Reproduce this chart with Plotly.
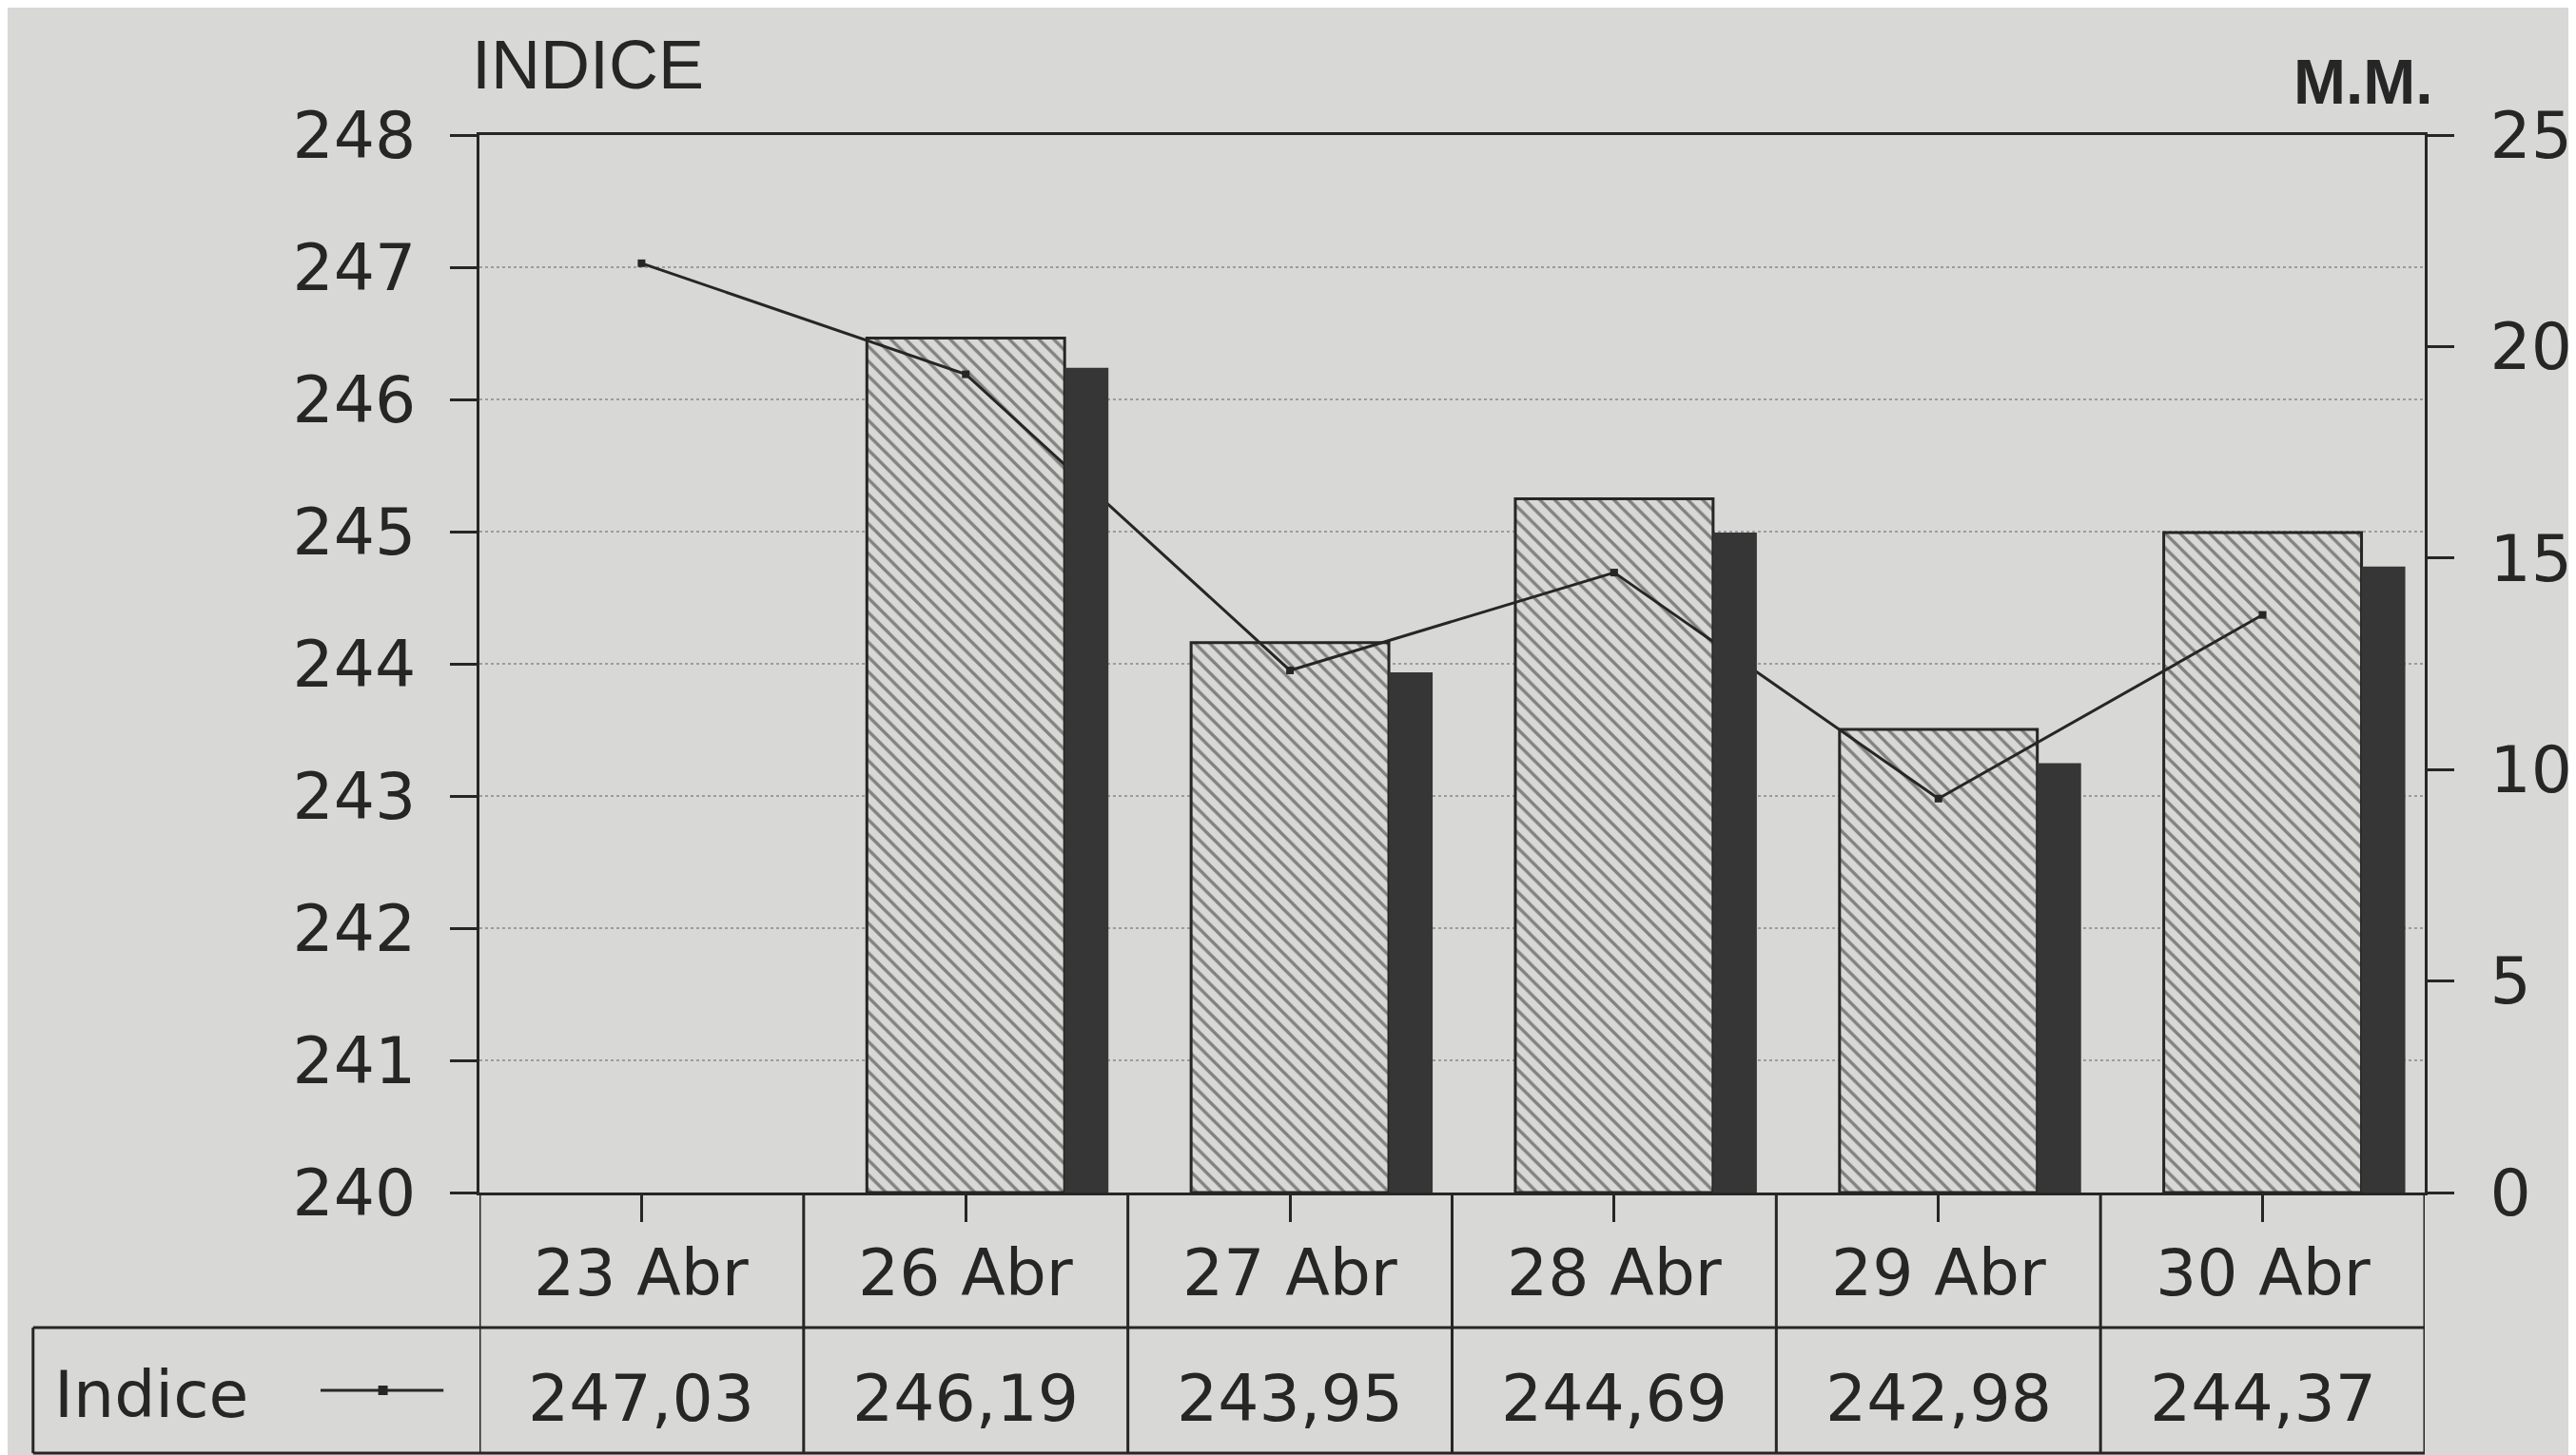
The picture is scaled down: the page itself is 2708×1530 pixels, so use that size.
import plotly.graph_objects as go

# ---------------- data ----------------
categories = ["23 Abr", "26 Abr", "27 Abr", "28 Abr", "29 Abr", "30 Abr"]
indice = [247.03, 246.19, 243.95, 244.69, 242.98, 244.37]
mm_hatched = [None, 20.2, 13.0, 16.4, 10.95, 15.6]
mm_dark = [None, 19.5, 12.3, 15.6, 10.15, 14.8]
left_ticks = [240, 241, 242, 243, 244, 245, 246, 247, 248]
right_ticks = [0, 5, 10, 15, 20, 25]

# ---------------- style ----------------
W, H = 2708, 1530
ML, MR, MT, MB = 496, 155, 134, 284
PW = W - ML - MR
PH = H - MT - MB
BG = "#d8d8d6"
INK = "#262626"
FONT = "DejaVu Sans"
FS = 68
LW = 3


def px(x):
    return (x - ML) / PW


def py(y):
    return (H - MB - y) / PH


xs = list(range(len(categories)))

fig = go.Figure()

# hatched bars (main subplot, drawn first)
fig.add_trace(go.Bar(
    x=xs, y=mm_hatched, offset=-0.305, width=0.61,
    marker=dict(color=BG, line=dict(color=INK, width=LW),
                pattern=dict(shape="\\", fgcolor="#2a2a2a", bgcolor=BG,
                             size=11, solidity=0.3)),
    yaxis="y", showlegend=False, hoverinfo="skip"))

# index line (left axis)
fig.add_trace(go.Scatter(
    x=xs, y=indice, mode="lines+markers",
    line=dict(color=INK, width=3),
    marker=dict(symbol="square", size=8, color=INK),
    yaxis="y2", showlegend=False))

# dark bars (right axis, on top of line)
fig.add_trace(go.Bar(
    x=xs, y=mm_dark, offset=0.305, width=0.135,
    marker=dict(color="#363636", line=dict(width=0)),
    yaxis="y3", showlegend=False))

shapes = []
# dotted gridlines at the index levels
for v in left_ticks[1:-1]:
    shapes.append(dict(type="line", xref="paper", yref="y2", x0=0, x1=1, y0=v, y1=v,
                       line=dict(color="#888888", width=1.5, dash="dot"), layer="below"))

# table under the chart
y_sep = py(1388)
y_bot = py(1520)
x_left = px(24)
for b in range(len(categories) + 1):
    shapes.append(dict(type="line", xref="x", yref="paper", x0=b - 0.5, x1=b - 0.5,
                       y0=0, y1=y_bot, line=dict(color=INK, width=LW)))
shapes.append(dict(type="line", xref="paper", yref="paper", x0=x_left, x1=1,
                   y0=y_sep, y1=y_sep, line=dict(color=INK, width=LW)))
shapes.append(dict(type="line", xref="paper", yref="paper", x0=x_left, x1=1,
                   y0=y_bot, y1=y_bot, line=dict(color=INK, width=LW)))
shapes.append(dict(type="line", xref="paper", yref="paper", x0=x_left, x1=x_left,
                   y0=y_sep, y1=y_bot, line=dict(color=INK, width=LW)))
# legend sample for "Indice"
shapes.append(dict(type="line", xref="paper", yref="paper", x0=px(328), x1=px(458),
                   y0=py(1454), y1=py(1454), line=dict(color=INK, width=LW)))
shapes.append(dict(type="rect", xref="paper", yref="paper", x0=px(389), x1=px(399),
                   y0=py(1449), y1=py(1459), line=dict(width=0), fillcolor=INK))

annotations = []
for i, c in enumerate(categories):
    annotations.append(dict(x=i, xref="x", y=py(1330), yref="paper", text=c,
                            showarrow=False, font=dict(family=FONT, size=FS, color=INK),
                            xanchor="center", yanchor="middle"))
    annotations.append(dict(x=i, xref="x", y=py(1462), yref="paper",
                            text=f"{indice[i]:.2f}".replace(".", ","),
                            showarrow=False, font=dict(family=FONT, size=FS, color=INK),
                            xanchor="center", yanchor="middle"))
annotations.append(dict(x=px(44), xref="paper", y=py(1458), yref="paper", text="Indice",
                        showarrow=False, font=dict(family=FONT, size=FS, color=INK),
                        xanchor="left", yanchor="middle"))
annotations.append(dict(x=px(486), xref="paper", y=py(60), yref="paper", text="INDICE",
                        showarrow=False, font=dict(family="Liberation Sans", size=72, color=INK),
                        xanchor="left", yanchor="middle"))
annotations.append(dict(x=px(2564), xref="paper", y=py(78), yref="paper", text="<b>M.M.</b>",
                        showarrow=False, font=dict(family="Liberation Sans", size=66, color=INK),
                        xanchor="right", yanchor="middle"))

fig.update_layout(
    width=W, height=H,
    margin=dict(l=ML, r=MR, t=MT, b=MB),
    paper_bgcolor=BG, plot_bgcolor=BG,
    barmode="overlay",
    showlegend=False,
    xaxis=dict(range=[-0.5, len(categories) - 0.5], tickvals=xs, showticklabels=False,
               ticks="outside", ticklen=28, tickwidth=LW, tickcolor=INK,
               showline=True, linecolor=INK, linewidth=LW, mirror=True,
               showgrid=False, zeroline=False, fixedrange=True),
    yaxis=dict(range=[0, 25], visible=False, showgrid=False, zeroline=False),
    yaxis2=dict(range=[240, 248], overlaying="y", side="left", tickvals=left_ticks,
                ticks="outside", ticklen=28, tickwidth=LW, tickcolor=INK,
                showline=True, linecolor=INK, linewidth=LW,
                showgrid=False, zeroline=False, ticklabelstandoff=22,
                tickfont=dict(family=FONT, size=FS, color=INK)),
    yaxis3=dict(range=[0, 25], overlaying="y", side="right", tickvals=right_ticks,
                ticks="outside", ticklen=28, tickwidth=LW, tickcolor=INK,
                showline=True, linecolor=INK, linewidth=LW,
                showgrid=False, zeroline=False, ticklabelstandoff=24,
                tickfont=dict(family=FONT, size=FS, color=INK)),
    shapes=shapes,
    annotations=annotations,
)

fig.write_html("out.html")
